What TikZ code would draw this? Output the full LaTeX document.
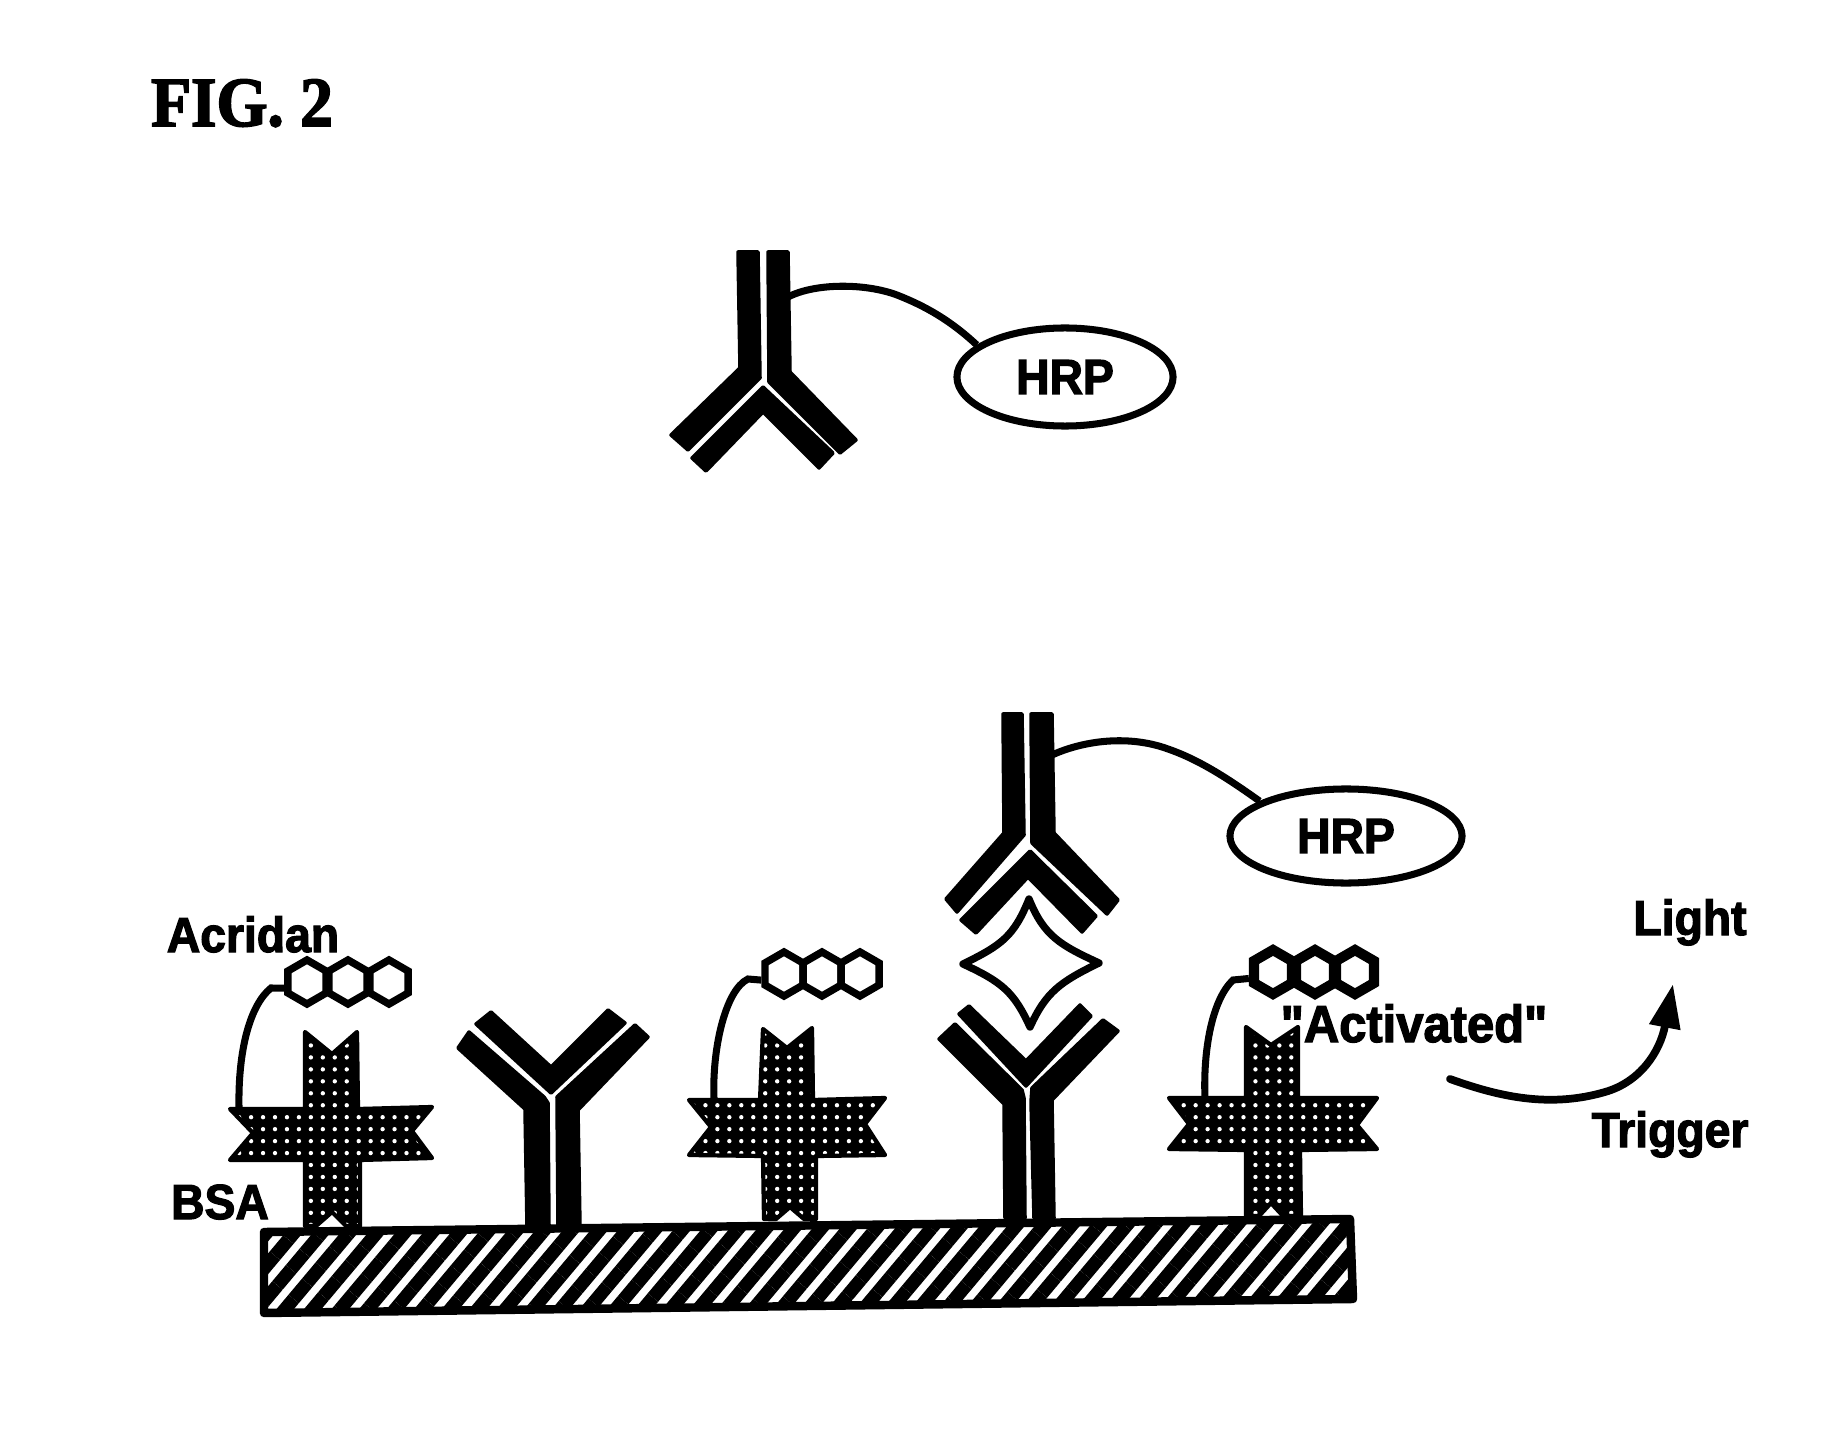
\documentclass[tikz,border=0pt]{standalone}
\usepackage{fontspec}
\usepackage{tikz}
\usetikzlibrary{arrows.meta,patterns.meta,shapes.geometric}
\newfontfamily\lblfont[FakeBold=2.4,FakeStretch=0.94]{Liberation Sans}
\newfontfamily\figfont[FakeBold=2.4,FakeStretch=0.93]{Liberation Serif}
\tikzset{
  abchain/.style={fill=black,draw=black,line width=1pt,line join=round},
  linker/.style={draw=black,line width=2pt},
  protein/.style={draw=black,line width=1.2pt,line join=round,preaction={fill=black},
    pattern={Dots[distance=3.4pt,radius=0.62pt]},pattern color=white},
  plate/.style={draw=black,line width=2.4pt,line join=round,preaction={fill=white},
    pattern={Lines[angle=50,distance=6pt,line width=3.8pt]},pattern color=black},
  ring/.style={draw=black,line width=2.1pt,regular polygon,regular polygon sides=6,
    shape border rotate=30,minimum size=0.44cm,inner sep=0pt},
  hotring/.style={ring,line width=2.9pt},
  enzyme/.style={draw=black,line width=2pt,ellipse,inner sep=0pt,font=\lblfont\bfseries\fontsize{14}{14}\selectfont},
  lbl/.style={anchor=base,inner sep=0pt,font=\lblfont\bfseries\fontsize{14}{14}\selectfont}
}

\begin{document}
\begin{tikzpicture}[x=0.01cm,y=-0.01cm]
\fill[white] (0,0) rectangle (1848,1452);
\useasboundingbox (0,0) rectangle (1848,1452);
\node[anchor=base,inner sep=0pt,font=\figfont\bfseries\fontsize{20}{20}\selectfont] (figlabel) at (242,126) {FIG. 2};

\fill[abchain] (738,252) -- (758,252) -- (760,378) -- (688,450) -- (671,435) -- (740,368) -- cycle;
\fill[abchain] (768,252) -- (788,252) -- (790,372) -- (856,440) -- (840,453) -- (769,382) -- cycle;
\fill[abchain] (763,387) -- (833,453) -- (819,468) -- (763,412) -- (706,471) -- (692,458) -- cycle;
\node[enzyme,minimum width=2.16cm,minimum height=0.98cm] (hrpTop) at (1065,377) {HRP};
\coordinate (abTop) at (788,297);
\draw[linker] (abTop) .. controls (815,283) and (865,283) .. (897,295) .. controls (925,306) and (950,320) .. (hrpTop.160);

\draw[plate] (264,1232) -- (1350,1219) -- (1353,1299) -- (264,1313) -- cycle;

\draw[protein] (305,1032) -- (332,1054) -- (357,1032) -- (358,1109) -- (432,1107) -- (412,1131) -- (432,1158) -- (360,1160) -- (360,1226) -- (346,1226) -- (332,1212) -- (316,1226) -- (305,1226) -- (305,1160) -- (230,1160) -- (253,1133) -- (230,1109) -- (305,1109) -- cycle;
\draw[protein] (763,1029) -- (787,1048) -- (812,1028) -- (813,1100) -- (885,1098) -- (865,1124) -- (885,1155) -- (816,1156) -- (816,1219) -- (804,1219) -- (790,1207) -- (776,1219) -- (764,1219) -- (763,1156) -- (689,1155) -- (711,1127) -- (689,1100) -- (760,1100) -- cycle;
\draw[protein] (1246,1027) -- (1271,1045) -- (1298,1027) -- (1298,1098) -- (1377,1098) -- (1357,1125) -- (1377,1149) -- (1300,1150) -- (1301,1216) -- (1283,1216) -- (1271,1203) -- (1259,1216) -- (1246,1216) -- (1246,1150) -- (1169,1149) -- (1189,1124) -- (1169,1098) -- (1246,1098) -- cycle;

\fill[abchain] (491,1012) -- (551,1067) -- (608,1010) -- (625,1023) -- (551,1093) -- (476,1024) -- cycle;
\fill[abchain] (469,1032) -- (544,1097) -- (548,1103) -- (549,1226) -- (527,1226) -- (525,1109) -- (458,1048) -- cycle;
\fill[abchain] (635,1025) -- (557,1097) -- (558,1226) -- (580,1226) -- (578,1110) -- (648,1037) -- cycle;

\fill[abchain] (1003,714) -- (1022,714) -- (1024,835) -- (957,912) -- (946,899) -- (1004,833) -- cycle;
\fill[abchain] (1031,714) -- (1052,714) -- (1054,833) -- (1118,900) -- (1107,914) -- (1032,843) -- cycle;
\fill[abchain] (1030,851) -- (1096,916) -- (1082,932) -- (1028,877) -- (976,933) -- (961,920) -- cycle;
\draw[line width=2.1pt,line join=round] (1029,899) .. controls (1014,936) and (1002,945) .. (963,964) .. controls (1002,982) and (1014,992) .. (1030,1027) .. controls (1046,992) and (1060,982) .. (1099,963) .. controls (1060,945) and (1044,936) .. cycle;
\fill[abchain] (969,1006) -- (1026,1061) -- (1080,1005) -- (1091,1016) -- (1026,1086) -- (959,1014) -- cycle;
\fill[abchain] (955,1024) -- (1022,1090) -- (1024,1098) -- (1025,1218) -- (1005,1218) -- (1004,1104) -- (939,1039) -- cycle;
\fill[abchain] (1103,1020) -- (1032,1088) -- (1031,1102) -- (1034,1218) -- (1054,1218) -- (1052,1100) -- (1118,1031) -- cycle;
\node[enzyme,minimum width=2.32cm,minimum height=0.94cm] (hrpLow) at (1346,836) {HRP};
\coordinate (abLow) at (1052,755);
\draw[linker] (abLow) .. controls (1085,740) and (1130,735) .. (1168,749) .. controls (1200,760) and (1230,780) .. (hrpLow.158);

\node[ring] (ringAa) at (307,982) {};
\node[ring] (ringAb) at (348,982) {};
\node[ring] (ringAc) at (389,982) {};
\coordinate (linkA) at (239,1107);
\draw[linker] (ringAa.195) -- (271,988) .. controls (250,1005) and (238,1050) .. (linkA);

\node[ring] (ringBa) at (784,974) {};
\node[ring] (ringBb) at (822,974) {};
\node[ring] (ringBc) at (860,974) {};
\coordinate (linkB) at (714,1098);
\draw[linker] (ringBa.195) -- (748,979) .. controls (725,990) and (712,1050) .. (linkB);

\node[hotring] (ringCa) at (1273,972) {};
\node[hotring] (ringCb) at (1315,972) {};
\node[hotring] (ringCc) at (1355,972) {};
\coordinate (linkC) at (1205,1098);
\draw[linker] (ringCa.195) -- (1233,980) .. controls (1212,1000) and (1203,1050) .. (linkC);

\coordinate (trigStart) at (1450,1079);
\coordinate (trigEnd) at (1673,984);
\draw[line width=2.2pt,line cap=round,-{Triangle[length=12.5pt,width=8.5pt]}] (trigStart) .. controls (1500,1097) and (1550,1108) .. (1605,1092) .. controls (1640,1082) and (1660,1052) .. (trigEnd);

\node[lbl] (acridan) at (253,952) {Acridan};
\node[lbl] (bsa) at (220,1219) {BSA};
\node[lbl,font=\lblfont\bfseries\fontsize{14.8}{14.8}\selectfont] (activated) at (1414,1042) {"Activated"};
\node[lbl] (light) at (1690,935) {Light};
\node[lbl] (trigger) at (1670,1147) {Trigger};
\end{tikzpicture}
\end{document}
